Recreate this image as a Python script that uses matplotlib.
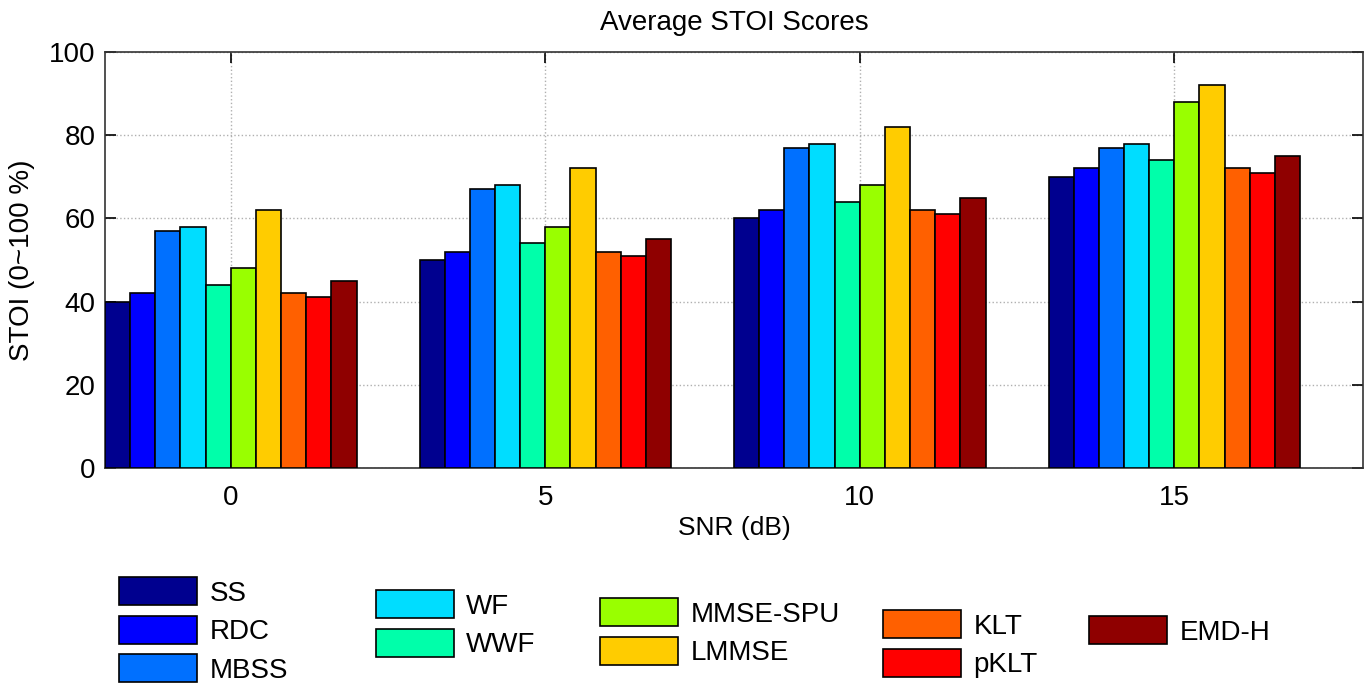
import numpy as np
import matplotlib.pyplot as plt
from matplotlib.patches import Patch

plt.rcParams['font.family'] = ['Liberation Sans', 'DejaVu Sans']

snr = ['0', '5', '10', '15']
methods = ['SS', 'RDC', 'MBSS', 'WF', 'WWF', 'MMSE-SPU', 'LMMSE', 'KLT', 'pKLT', 'EMD-H']
scores = {
    'SS':       [40, 50, 60, 70],
    'RDC':      [42, 52, 62, 72],
    'MBSS':     [57, 67, 77, 77],
    'WF':       [58, 68, 78, 78],
    'WWF':      [44, 54, 64, 74],
    'MMSE-SPU': [48, 58, 68, 88],
    'LMMSE':    [62, 72, 82, 92],
    'KLT':      [42, 52, 62, 72],
    'pKLT':     [41, 51, 61, 71],
    'EMD-H':    [45, 55, 65, 75],
}
colors = ['#00008f', '#0000ff', '#0070ff', '#00ddff', '#00ffaa',
          '#99ff00', '#ffcc00', '#ff6000', '#ff0000', '#8f0000']

W, H = 1367, 685
fig = plt.figure(figsize=(W / 100, H / 100), dpi=100)
ax = fig.add_axes([105 / W, 1 - 468 / H, (1363 - 105) / W, (468 - 52) / H])

x = np.arange(len(snr))
w = 0.08
n = len(methods)
for i, m in enumerate(methods):
    off = (i - (n - 1) / 2) * w
    ax.bar(x + off, scores[m], w, color=colors[i], edgecolor='black', linewidth=1.2, zorder=3)

ax.set_xlim(-0.4, 3.6)
ax.set_ylim(0, 100)
ax.set_xticks(x)
ax.set_xticklabels(snr)
ax.set_yticks(np.arange(0, 101, 20))
ax.tick_params(direction='in', length=8, width=1.2, labelsize=20, top=True, right=True)
ax.tick_params(axis='x', pad=12)
ax.tick_params(axis='y', pad=7)
ax.grid(True, linestyle=':', color='#b0b0b0', linewidth=1, zorder=0)
for s in ax.spines.values():
    s.set_linewidth(1.2)
    s.set_color('#333333')
ax.set_title('Average STOI Scores', fontsize=20, pad=16)
ax.set_xlabel('SNR (dB)', fontsize=19, labelpad=4)
ax.set_ylabel('STOI (0~100 %)', fontsize=20, labelpad=10)

# legend in five separate columns, staggered like the original (top-left of first patch, px)
cols = [(['SS', 'RDC', 'MBSS'], 119, 577),
        (['WF', 'WWF'], 376, 590),
        (['MMSE-SPU', 'LMMSE'], 600, 598),
        (['KLT', 'pKLT'], 883, 610),
        (['EMD-H'], 1089, 616)]
for names, lx, ly in cols:
    handles = [Patch(facecolor=colors[methods.index(nm)], edgecolor='black', linewidth=1.2) for nm in names]
    fig.legend(handles, names, loc='upper left', bbox_to_anchor=(lx / W, 1 - ly / H), frameon=False,
               fontsize=20, handlelength=2.8, handleheight=1.2, labelspacing=0.32,
               handletextpad=0.45, borderpad=0, borderaxespad=0)

fig.savefig('out.png', dpi=100)
